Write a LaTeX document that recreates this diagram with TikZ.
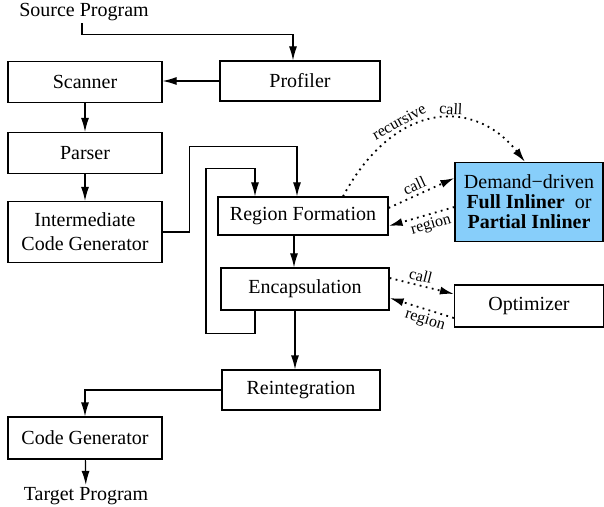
\documentclass[tikz,border=0pt]{standalone}
\usepackage{fontspec}
\setmainfont{Liberation Serif}
\usetikzlibrary{arrows.meta, positioning}
\definecolor{inlinerblue}{RGB}{135,206,250}

\begin{document}
\begin{tikzpicture}[x=0.5pt, y=-0.5pt,
    box/.style={draw, line width=0.6pt, inner sep=1pt, align=center},
    stage/.style={box, minimum width=77pt, minimum height=20.5pt},
    flow/.style={-{Latex[length=7pt,width=4pt]}, line width=0.6pt},
    dotflow/.style={-{Latex[length=7pt,width=4pt]}, line width=0.9pt, dash pattern=on 0.9pt off 2.2pt},
    lbl/.style={font=\footnotesize, inner sep=1.5pt}
]
\useasboundingbox (0,0) rectangle (604,507);
% Boxes
\node[inner sep=1pt] (src) at (84,12) {Source Program};
\node[stage] (scanner) at (85,82) {Scanner};
\node[box, minimum width=80pt, minimum height=20pt] (profiler) at (300,81) {Profiler};
\node[stage] (parser) at (85,153) {Parser};
\node[stage, minimum height=30.5pt] (icg) at (85,232) {Intermediate\\Code Generator};
\node[box, minimum width=85pt, minimum height=19pt] (regform) at (303,216) {Region Formation};
\node[box, minimum width=84pt, minimum height=21pt] (encap) at (305,289) {Encapsulation};
\node[box, fill=inlinerblue, minimum width=74pt, minimum height=39.5pt,
      font=\fontsize{10pt}{10pt}\selectfont] (inliner) at (529,202)
      {Demand−driven\\\textbf{Full Inliner}\ \ or\\\textbf{Partial Inliner}};
\node[box, minimum width=74.5pt, minimum height=21pt] (optimizer) at (529,306) {Optimizer};
\node[box, minimum width=79pt, minimum height=20pt] (reint) at (301,390) {Reintegration};
\node[stage, minimum height=21pt] (codegen) at (85,438) {Code Generator};
\node[inner sep=1pt] (target) at (86,496) {Target Program};

% Flow
\draw[flow] ([xshift=-1pt]src.south) |- ([xshift=-3.5pt,yshift=13pt]profiler.north) -- ([xshift=-3.5pt]profiler.north);
\draw[flow] (profiler.west) -- (profiler.west -| scanner.east);
\draw[flow] (scanner) -- (parser);
\draw[flow] (parser) -- (icg);
\draw[flow] (icg.east) -- ++(13.5pt,0) |- ([xshift=-3pt,yshift=25pt]regform.north) -- ([xshift=-3pt]regform.north);
\draw[flow] ([xshift=-25pt]encap.south) -- ++(0,-11.5pt) -- ++(-24.5pt,0) |- ([xshift=-24pt,yshift=14pt]regform.north) -- ([xshift=-24pt]regform.north);
\draw[flow] ([xshift=-4.5pt]regform.south) -- ([xshift=-4.5pt]regform.south |- encap.north);
\draw[flow] ([xshift=-5pt]encap.south) -- ([xshift=-5pt]encap.south |- reint.north);
\draw[flow] (reint.west) -| (codegen.north);
\draw[flow] (codegen) -- (target);

% Calls
\draw[dotflow] ([xshift=20pt]regform.north) .. controls (395,100) and (475,98) .. ([xshift=-2pt]inliner.north)
    node[lbl, pos=0.34, sloped, above] {recursive}
    node[lbl, pos=0.58, sloped, above] {call};
\draw[dotflow] ([yshift=4pt]regform.east) -- ([yshift=12pt]inliner.west)
    node[lbl, pos=0.45, sloped, above] {call};
\draw[dotflow] ([yshift=-2.5pt]inliner.west) -- ([yshift=-5pt]regform.east)
    node[lbl, pos=0.4, sloped, below] {region};
\draw[dotflow] ([yshift=5.5pt]encap.east) -- ([yshift=6pt]optimizer.west)
    node[lbl, pos=0.45, sloped, above] {call};
\draw[dotflow] ([yshift=-6pt]optimizer.west) -- ([yshift=-4.5pt]encap.east)
    node[lbl, pos=0.4, sloped, below] {region};
\end{tikzpicture}
\end{document}
